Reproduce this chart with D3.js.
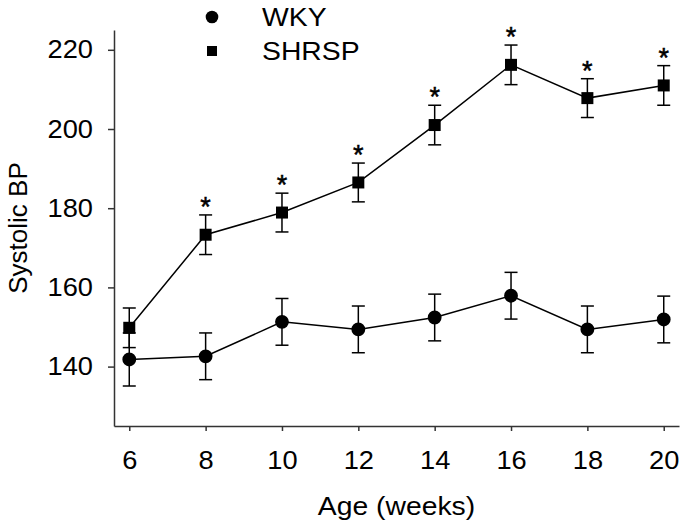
<!DOCTYPE html>
<html>
<head>
<meta charset="utf-8">
<script src="https://cdn.jsdelivr.net/npm/d3@7"></script>
<style>
  body { margin: 0; background: #fff; }
  text { font-family: "Liberation Sans", Arial, sans-serif; fill: #000; }
</style>
</head>
<body>
<div id="chart"></div>
<script>
// data
let weeks = [6, 8, 10, 12, 14, 16, 18, 20];
let wkyMean = [141.8, 142.6, 151.3, 149.4, 152.4, 157.9, 149.4, 151.9];
let wkyErr = [6.7, 5.9, 5.9, 5.9, 5.9, 5.9, 5.9, 5.9];
let shrspMean = [149.8, 173.3, 178.9, 186.5, 201.0, 216.2, 207.8, 211.0];
let shrspErr = [5.0, 5.0, 4.9, 4.9, 5.0, 5.0, 4.9, 5.0];
let significant = [false, true, true, true, true, true, true, true];
let yTicks = [140, 160, 180, 200, 220];

let width = 685;
let height = 529;
let margin = { top: 30, left: 114, right: 6, bottom: 103 };
let innerW = width - margin.left - margin.right;
let innerH = height - margin.top - margin.bottom;

// the figure's lettering is a bit wider than plain Arial
let sx = 1.09;
function stretch(sel) {
    sel.each(function() {
        let t = d3.select(this);
        let x0 = +t.attr('x') || 0;
        t.attr('x', x0 / sx).attr('transform', 'scale(' + sx + ',1)');
    });
}

let x = d3.scaleLinear().domain([5.6, 20.4]).range([0, innerW]);
let y = d3.scaleLinear().domain([125, 225]).range([innerH, 0]);

let svg = d3.select('#chart').append('svg')
    .attr('width', width)
    .attr('height', height);

let group = svg.append('g')
    .attr('transform', 'translate(' + margin.left + ',' + margin.top + ')');

// axes
let xAxis = d3.axisBottom(x).tickValues(weeks).tickSize(5).tickPadding(20).tickSizeOuter(0);
let yAxis = d3.axisLeft(y).tickValues(yTicks).tickSize(6).tickPadding(15).tickSizeOuter(0);

group.append('g')
    .attr('class', 'x-axis')
    .attr('transform', 'translate(0,' + innerH + ')')
    .call(xAxis);

group.append('g')
    .attr('class', 'y-axis')
    .call(yAxis);

group.selectAll('.domain, .tick line')
    .attr('stroke', '#333')
    .attr('stroke-width', 1.5);
group.selectAll('.tick text')
    .style('font-size', '25px')
    .call(stretch);

// axis titles
svg.append('text')
    .attr('x', margin.left + innerW / 2)
    .attr('y', 515)
    .attr('text-anchor', 'middle')
    .style('font-size', '26px')
    .text('Age (weeks)')
    .call(stretch);

svg.append('text')
    .attr('transform', 'translate(27,' + (margin.top + innerH / 2) + ') rotate(-90)')
    .attr('text-anchor', 'middle')
    .style('font-size', '26px')
    .text('Systolic BP');

// build series
function rows(means, errs) {
    return weeks.map((w, i) => ({ week: w, mean: means[i], err: errs[i], sig: significant[i] }));
}
let wky = rows(wkyMean, wkyErr);
let shrsp = rows(shrspMean, shrspErr);

let line = d3.line()
    .x(d => x(d.week))
    .y(d => y(d.mean));

function drawSeries(data, shape) {
    let g = group.append('g');

    g.append('path')
        .datum(data)
        .attr('fill', 'none')
        .attr('stroke', '#000')
        .attr('stroke-width', 1.5)
        .attr('d', line);

    let bars = g.selectAll('.err')
        .data(data)
        .enter()
        .append('g')
        .attr('class', 'err')
        .attr('stroke', '#000')
        .attr('stroke-width', 1.5);

    bars.append('line')
        .attr('x1', d => x(d.week)).attr('x2', d => x(d.week))
        .attr('y1', d => y(d.mean - d.err)).attr('y2', d => y(d.mean + d.err));
    bars.append('line')
        .attr('x1', d => x(d.week) - 6.5).attr('x2', d => x(d.week) + 6.5)
        .attr('y1', d => y(d.mean + d.err)).attr('y2', d => y(d.mean + d.err));
    bars.append('line')
        .attr('x1', d => x(d.week) - 6.5).attr('x2', d => x(d.week) + 6.5)
        .attr('y1', d => y(d.mean - d.err)).attr('y2', d => y(d.mean - d.err));

    g.selectAll('.mark')
        .data(data)
        .enter()
        .append('path')
        .attr('class', 'mark')
        .attr('transform', d => 'translate(' + x(d.week) + ',' + y(d.mean) + ')')
        .attr('d', d3.symbol().type(shape).size(shape === d3.symbolCircle ? 150 : 144))
        .attr('fill', '#000');
}

drawSeries(wky, d3.symbolCircle);
drawSeries(shrsp, d3.symbolSquare);

// significance stars
group.selectAll('.star')
    .data(shrsp.filter(d => d.sig))
    .enter()
    .append('text')
    .attr('class', 'star')
    .attr('x', d => x(d.week))
    .attr('y', d => y(d.mean + d.err) + 1)
    .attr('text-anchor', 'middle')
    .style('font-size', '27px')
    .style('stroke', '#000')
    .style('stroke-width', 0.5)
    .text('*');

// legend
let legend = svg.append('g');
let legendItems = [
    { name: 'WKY', shape: d3.symbolCircle, size: 125 },
    { name: 'SHRSP', shape: d3.symbolSquare, size: 100 }
];
legendItems.forEach((d, i) => {
    let ly = 17 + i * 34;
    legend.append('path')
        .attr('transform', 'translate(212,' + ly + ')')
        .attr('d', d3.symbol().type(d.shape).size(d.size))
        .attr('fill', '#000');
    legend.append('text')
        .attr('x', 262)
        .attr('y', ly + 9)
        .style('font-size', '26px')
        .text(d.name)
        .call(stretch);
});
</script>
</body>
</html>
